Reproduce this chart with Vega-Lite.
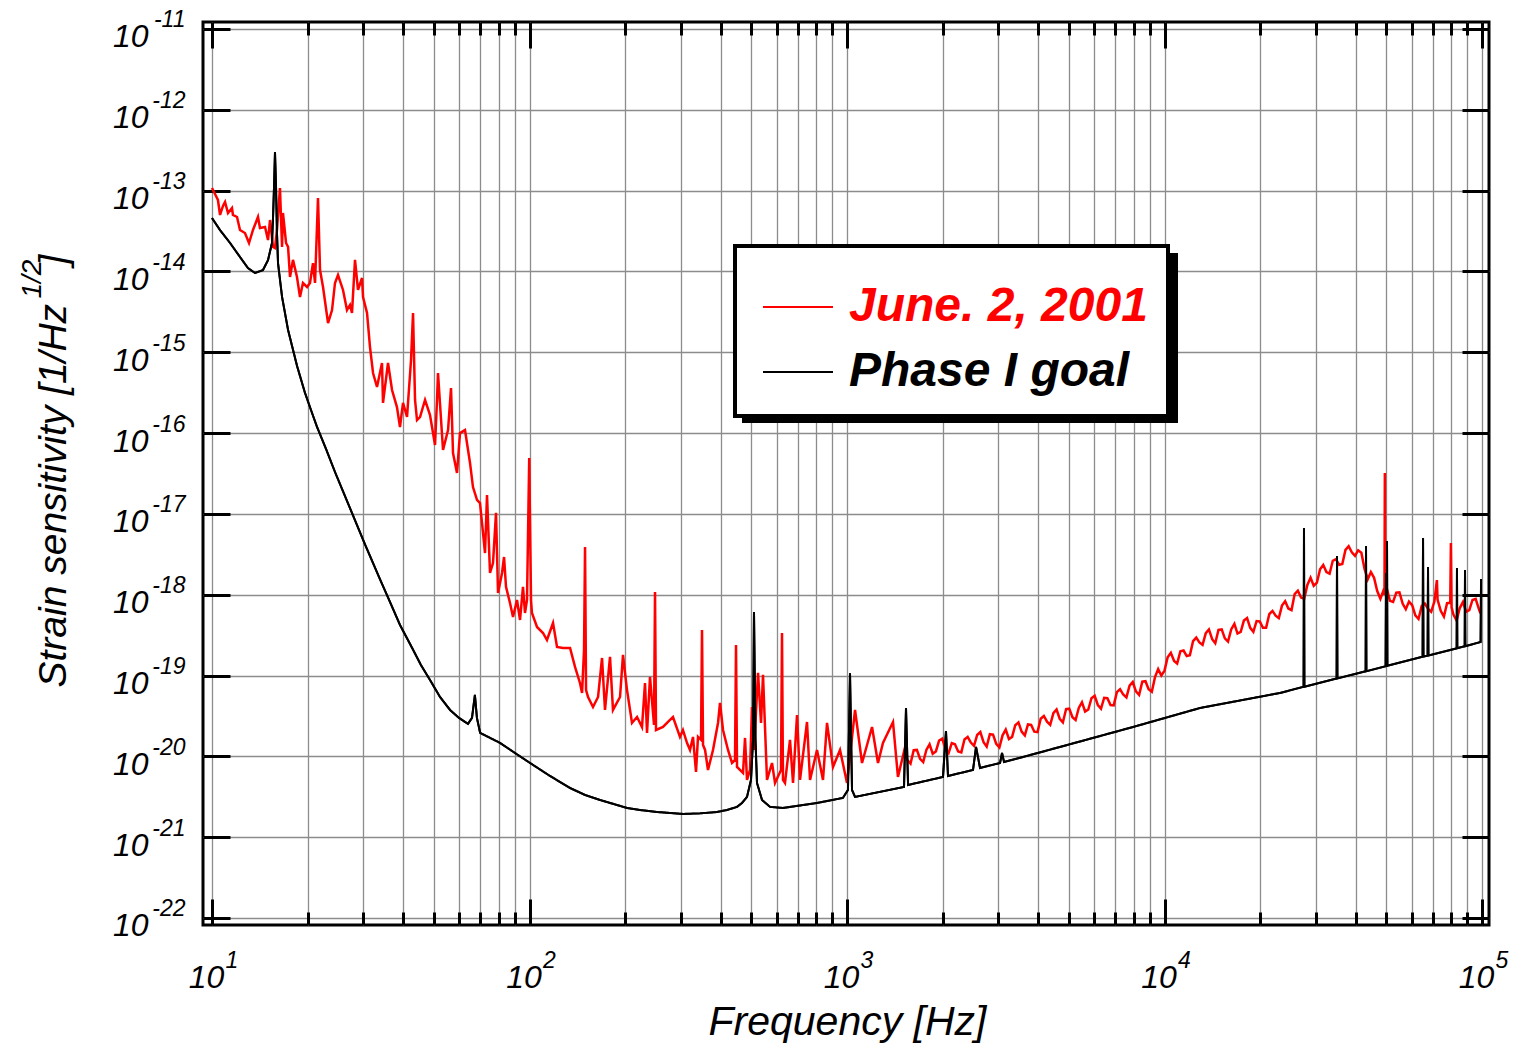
{
 "$schema": "https://vega.github.io/schema/vega-lite/v6.json",
 "width": 1286,
 "height": 903,
 "autosize": {"type": "none"},
 "padding": {"left": 203, "top": 22, "right": 24, "bottom": 118},
 "background": "white",
 "config": {
  "view": {"stroke": "black", "strokeWidth": 3},
  "font": "Liberation Sans",
  "axis": {"domain": false, "labelFont": "Liberation Sans", "labelFontStyle": "italic", "labelFontWeight": "normal", "labelColor": "black", "labelOverlap": false, "labelFlush": false, "titleFont": "Liberation Sans", "titleFontStyle": "italic", "titleFontWeight": "normal", "titleColor": "black", "tickColor": "black", "tickWidth": 3, "gridColor": "#8c8c8c", "gridWidth": 1.3},
  "legend": {"padding": 20, "rowPadding": 17, "symbolSize": 1225, "symbolStrokeWidth": 2, "labelFont": "Liberation Sans", "labelFontSize": 48, "labelFontStyle": "italic", "labelFontWeight": "bold", "labelOffset": 46, "labelLimit": 700, "titleFontSize": 1, "titlePadding": 16, "titleFont": "Liberation Sans"}
 },
 "datasets": {
  "measured": [
   {"f":10,"s":1.078e-13,"series":"June. 2, 2001"},{"f":10.22,"s":9.09e-14,"series":"June. 2, 2001"},{"f":10.44,"s":7.66e-14,"series":"June. 2, 2001"},{"f":10.6,"s":5.0e-14,"series":"June. 2, 2001"},{"f":10.83,"s":6.46e-14,"series":"June. 2, 2001"},{"f":10.99,"s":7.24e-14,"series":"June. 2, 2001"},{"f":11.23,"s":5.29e-14,"series":"June. 2, 2001"},{"f":11.56,"s":6.1e-14,"series":"June. 2, 2001"},{"f":11.64,"s":5.0e-14,"series":"June. 2, 2001"},{"f":11.99,"s":4.72e-14,"series":"June. 2, 2001"},{"f":12.25,"s":3.26e-14,"series":"June. 2, 2001"},{"f":12.7,"s":2.99e-14,"series":"June. 2, 2001"},{"f":13.08,"s":2.25e-14,"series":"June. 2, 2001"},{"f":13.46,"s":3.26e-14,"series":"June. 2, 2001"},{"f":13.96,"s":4.72e-14,"series":"June. 2, 2001"},{"f":14.16,"s":3.45e-14,"series":"June. 2, 2001"},{"f":14.69,"s":3.55e-14,"series":"June. 2, 2001"},{"f":15.01,"s":2.45e-14,"series":"June. 2, 2001"},{"f":15.23,"s":4.33e-14,"series":"June. 2, 2001"},{"f":15.57,"s":2.01e-14,"series":"June. 2, 2001"},{"f":15.79,"s":1.95e-14,"series":"June. 2, 2001"},{"f":16.02,"s":3.26e-14,"series":"June. 2, 2001"},{"f":16.37,"s":1.078e-13,"series":"June. 2, 2001"},{"f":16.62,"s":2.01e-14,"series":"June. 2, 2001"},{"f":16.73,"s":5.29e-14,"series":"June. 2, 2001"},{"f":17.11,"s":2.25e-14,"series":"June. 2, 2001"},{"f":17.36,"s":2.01e-14,"series":"June. 2, 2001"},{"f":17.61,"s":8.54e-15,"series":"June. 2, 2001"},{"f":17.99,"s":1.39e-14,"series":"June. 2, 2001"},{"f":18.52,"s":8.54e-15,"series":"June. 2, 2001"},{"f":18.93,"s":4.83e-15,"series":"June. 2, 2001"},{"f":19.34,"s":7.2e-15,"series":"June. 2, 2001"},{"f":19.92,"s":6.42e-15,"series":"June. 2, 2001"},{"f":20.35,"s":7.2e-15,"series":"June. 2, 2001"},{"f":20.8,"s":1.27e-14,"series":"June. 2, 2001"},{"f":21.11,"s":7.2e-15,"series":"June. 2, 2001"},{"f":21.57,"s":8.11e-14,"series":"June. 2, 2001"},{"f":21.89,"s":1.04e-14,"series":"June. 2, 2001"},{"f":22.37,"s":6.42e-15,"series":"June. 2, 2001"},{"f":23.2,"s":2.3e-15,"series":"June. 2, 2001"},{"f":23.88,"s":3.33e-15,"series":"June. 2, 2001"},{"f":24.4,"s":7.2e-15,"series":"June. 2, 2001"},{"f":24.94,"s":9.04e-15,"series":"June. 2, 2001"},{"f":25.86,"s":5.9e-15,"series":"June. 2, 2001"},{"f":26.62,"s":3.33e-15,"series":"June. 2, 2001"},{"f":27.2,"s":3.85e-15,"series":"June. 2, 2001"},{"f":27.6,"s":3.06e-15,"series":"June. 2, 2001"},{"f":28.21,"s":1.39e-14,"series":"June. 2, 2001"},{"f":28.83,"s":5.9e-15,"series":"June. 2, 2001"},{"f":29.68,"s":8.3e-15,"series":"June. 2, 2001"},{"f":29.9,"s":4.83e-15,"series":"June. 2, 2001"},{"f":30.78,"s":3.06e-15,"series":"June. 2, 2001"},{"f":31.45,"s":1.16e-15,"series":"June. 2, 2001"},{"f":32.15,"s":5.54e-16,"series":"June. 2, 2001"},{"f":33.09,"s":3.72e-16,"series":"June. 2, 2001"},{"f":34.31,"s":7.37e-16,"series":"June. 2, 2001"},{"f":34.56,"s":2.36e-16,"series":"June. 2, 2001"},{"f":35.84,"s":7.37e-16,"series":"June. 2, 2001"},{"f":36.9,"s":3.41e-16,"series":"June. 2, 2001"},{"f":38.24,"s":2.1e-16,"series":"June. 2, 2001"},{"f":39.09,"s":1.19e-16,"series":"June. 2, 2001"},{"f":39.96,"s":2.36e-16,"series":"June. 2, 2001"},{"f":41.14,"s":1.58e-16,"series":"June. 2, 2001"},{"f":42.35,"s":8.03e-16,"series":"June. 2, 2001"},{"f":42.97,"s":3.06e-15,"series":"June. 2, 2001"},{"f":43.6,"s":2.57e-16,"series":"June. 2, 2001"},{"f":44.23,"s":1.45e-16,"series":"June. 2, 2001"},{"f":45.2,"s":1.58e-16,"series":"June. 2, 2001"},{"f":46.88,"s":2.57e-16,"series":"June. 2, 2001"},{"f":48.6,"s":1.67e-16,"series":"June. 2, 2001"},{"f":50.4,"s":7.13e-17,"series":"June. 2, 2001"},{"f":51.13,"s":2.57e-16,"series":"June. 2, 2001"},{"f":51.5,"s":5.54e-16,"series":"June. 2, 2001"},{"f":53.41,"s":6.18e-17,"series":"June. 2, 2001"},{"f":55.39,"s":1.09e-16,"series":"June. 2, 2001"},{"f":56.6,"s":3.61e-16,"series":"June. 2, 2001"},{"f":57.42,"s":5.67e-17,"series":"June. 2, 2001"},{"f":59.11,"s":3.21e-17,"series":"June. 2, 2001"},{"f":60.4,"s":1.0e-16,"series":"June. 2, 2001"},{"f":62.64,"s":1.09e-16,"series":"June. 2, 2001"},{"f":64.96,"s":4.27e-17,"series":"June. 2, 2001"},{"f":66.37,"s":2.15e-17,"series":"June. 2, 2001"},{"f":68.33,"s":1.49e-17,"series":"June. 2, 2001"},{"f":69.84,"s":1.36e-17,"series":"June. 2, 2001"},{"f":70.86,"s":7.72e-18,"series":"June. 2, 2001"},{"f":72.42,"s":3.28e-18,"series":"June. 2, 2001"},{"f":73.48,"s":1.71e-17,"series":"June. 2, 2001"},{"f":75.1,"s":1.86e-18,"series":"June. 2, 2001"},{"f":76.74,"s":2.47e-18,"series":"June. 2, 2001"},{"f":78.44,"s":1.03e-17,"series":"June. 2, 2001"},{"f":79.59,"s":1.05e-18,"series":"June. 2, 2001"},{"f":81.94,"s":1.86e-18,"series":"June. 2, 2001"},{"f":83.14,"s":2.93e-18,"series":"June. 2, 2001"},{"f":84.33,"s":1.25e-18,"series":"June. 2, 2001"},{"f":86.82,"s":7.91e-19,"series":"June. 2, 2001"},{"f":88.72,"s":5.31e-19,"series":"June. 2, 2001"},{"f":91.33,"s":8.61e-19,"series":"June. 2, 2001"},{"f":93.35,"s":4.87e-19,"series":"June. 2, 2001"},{"f":95.39,"s":1.25e-18,"series":"June. 2, 2001"},{"f":96.78,"s":5.94e-19,"series":"June. 2, 2001"},{"f":98.2,"s":8.61e-19,"series":"June. 2, 2001"},{"f":99.8,"s":4.92e-17,"series":"June. 2, 2001"},{"f":101.1,"s":8.61e-19,"series":"June. 2, 2001"},{"f":101.8,"s":5.94e-19,"series":"June. 2, 2001"},{"f":105.6,"s":3.99e-19,"series":"June. 2, 2001"},{"f":110.3,"s":3.36e-19,"series":"June. 2, 2001"},{"f":113.5,"s":2.75e-19,"series":"June. 2, 2001"},{"f":118.6,"s":4.47e-19,"series":"June. 2, 2001"},{"f":122.1,"s":2.26e-19,"series":"June. 2, 2001"},{"f":127.5,"s":2.19e-19,"series":"June. 2, 2001"},{"f":134.2,"s":2.19e-19,"series":"June. 2, 2001"},{"f":139.1,"s":1.28e-19,"series":"June. 2, 2001"},{"f":144.2,"s":8.09e-20,"series":"June. 2, 2001"},{"f":146.4,"s":6.08e-20,"series":"June. 2, 2001"},{"f":148.5,"s":2.07e-19,"series":"June. 2, 2001"},{"f":149.6,"s":3.9e-18,"series":"June. 2, 2001"},{"f":150.7,"s":6.62e-20,"series":"June. 2, 2001"},{"f":152.9,"s":5.43e-20,"series":"June. 2, 2001"},{"f":158.5,"s":4.08e-20,"series":"June. 2, 2001"},{"f":164.4,"s":5.43e-20,"series":"June. 2, 2001"},{"f":169.2,"s":1.65e-19,"series":"June. 2, 2001"},{"f":172.9,"s":3.75e-20,"series":"June. 2, 2001"},{"f":179.3,"s":1.7e-19,"series":"June. 2, 2001"},{"f":183.2,"s":3.75e-20,"series":"June. 2, 2001"},{"f":192.8,"s":5.43e-20,"series":"June. 2, 2001"},{"f":197.0,"s":1.8e-19,"series":"June. 2, 2001"},{"f":202.8,"s":6.62e-20,"series":"June. 2, 2001"},{"f":210.3,"s":2.59e-20,"series":"June. 2, 2001"},{"f":218.1,"s":3.07e-20,"series":"June. 2, 2001"},{"f":226.1,"s":2.31e-20,"series":"June. 2, 2001"},{"f":231.1,"s":8.09e-20,"series":"June. 2, 2001"},{"f":234.5,"s":1.95e-20,"series":"June. 2, 2001"},{"f":239.6,"s":9.6e-20,"series":"June. 2, 2001"},{"f":246.7,"s":2.45e-20,"series":"June. 2, 2001"},{"f":248.5,"s":1.08e-18,"series":"June. 2, 2001"},{"f":250.3,"s":2.12e-20,"series":"June. 2, 2001"},{"f":263.3,"s":2.31e-20,"series":"June. 2, 2001"},{"f":277.0,"s":2.82e-20,"series":"June. 2, 2001"},{"f":283.1,"s":3.07e-20,"series":"June. 2, 2001"},{"f":297.8,"s":1.74e-20,"series":"June. 2, 2001"},{"f":304.3,"s":2.12e-20,"series":"June. 2, 2001"},{"f":313.3,"s":1.47e-20,"series":"June. 2, 2001"},{"f":320.2,"s":1.2e-20,"series":"June. 2, 2001"},{"f":327.3,"s":1.74e-20,"series":"June. 2, 2001"},{"f":334.5,"s":6.41e-21,"series":"June. 2, 2001"},{"f":339.4,"s":1.74e-20,"series":"June. 2, 2001"},{"f":346.9,"s":1.6e-20,"series":"June. 2, 2001"},{"f":349.4,"s":3.66e-19,"series":"June. 2, 2001"},{"f":352.0,"s":1.38e-20,"series":"June. 2, 2001"},{"f":357.2,"s":1.2e-20,"series":"June. 2, 2001"},{"f":364.9,"s":6.79e-21,"series":"June. 2, 2001"},{"f":378.4,"s":1.2e-20,"series":"June. 2, 2001"},{"f":392.4,"s":2.59e-20,"series":"June. 2, 2001"},{"f":398.1,"s":4.58e-20,"series":"June. 2, 2001"},{"f":406.9,"s":2.12e-20,"series":"June. 2, 2001"},{"f":421.9,"s":1.2e-20,"series":"June. 2, 2001"},{"f":434.3,"s":8.28e-21,"series":"June. 2, 2001"},{"f":443.9,"s":9.02e-21,"series":"June. 2, 2001"},{"f":447.1,"s":2.39e-19,"series":"June. 2, 2001"},{"f":450.4,"s":7.39e-21,"series":"June. 2, 2001"},{"f":470.4,"s":6.23e-21,"series":"June. 2, 2001"},{"f":477.3,"s":1.69e-20,"series":"June. 2, 2001"},{"f":484.2,"s":5.11e-21,"series":"June. 2, 2001"},{"f":494.9,"s":6.79e-21,"series":"June. 2, 2001"},{"f":502.2,"s":4.08e-20,"series":"June. 2, 2001"},{"f":509.5,"s":1.2e-20,"series":"June. 2, 2001"},{"f":524.5,"s":1.08e-19,"series":"June. 2, 2001"},{"f":536.0,"s":2.59e-20,"series":"June. 2, 2001"},{"f":543.8,"s":1.02e-19,"series":"June. 2, 2001"},{"f":559.8,"s":5.11e-21,"series":"June. 2, 2001"},{"f":580.5,"s":8.28e-21,"series":"June. 2, 2001"},{"f":593.3,"s":4.69e-21,"series":"June. 2, 2001"},{"f":619.6,"s":6.79e-21,"series":"June. 2, 2001"},{"f":624.1,"s":3.36e-19,"series":"June. 2, 2001"},{"f":628.6,"s":5.11e-21,"series":"June. 2, 2001"},{"f":637.8,"s":4.69e-21,"series":"June. 2, 2001"},{"f":661.4,"s":1.6e-20,"series":"June. 2, 2001"},{"f":676.0,"s":4.69e-21,"series":"June. 2, 2001"},{"f":695.9,"s":3.25e-20,"series":"June. 2, 2001"},{"f":711.2,"s":5.11e-21,"series":"June. 2, 2001"},{"f":748.2,"s":2.66e-20,"series":"June. 2, 2001"},{"f":764.7,"s":5.11e-21,"series":"June. 2, 2001"},{"f":804.5,"s":1.2e-20,"series":"June. 2, 2001"},{"f":840.2,"s":5.11e-21,"series":"June. 2, 2001"},{"f":865.0,"s":2.59e-20,"series":"June. 2, 2001"},{"f":903.5,"s":7.39e-21,"series":"June. 2, 2001"},{"f":950.6,"s":1.2e-20,"series":"June. 2, 2001"},{"f":1000,"s":4.69e-21,"series":"June. 2, 2001"},{"f":1060,"s":3.75e-20,"series":"June. 2, 2001"},{"f":1115,"s":8.28e-21,"series":"June. 2, 2001"},{"f":1199,"s":2.31e-20,"series":"June. 2, 2001"},{"f":1252,"s":8.28e-21,"series":"June. 2, 2001"},{"f":1298,"s":1.47e-20,"series":"June. 2, 2001"},{"f":1396,"s":2.66e-20,"series":"June. 2, 2001"},{"f":1447,"s":5.56e-21,"series":"June. 2, 2001"},
   {"f":1514,"s":1.175e-20,"series":"June. 2, 2001"},{"f":1549,"s":9.02e-21,"series":"June. 2, 2001"},{"f":1585,"s":8.13e-21,"series":"June. 2, 2001"},{"f":1622,"s":1.19e-20,"series":"June. 2, 2001"},{"f":1660,"s":1.2e-20,"series":"June. 2, 2001"},{"f":1698,"s":9.33e-21,"series":"June. 2, 2001"},{"f":1738,"s":8.51e-21,"series":"June. 2, 2001"},{"f":1778,"s":1.2e-20,"series":"June. 2, 2001"},{"f":1820,"s":1.41e-20,"series":"June. 2, 2001"},{"f":1862,"s":1.08e-20,"series":"June. 2, 2001"},{"f":1905,"s":1.15e-20,"series":"June. 2, 2001"},{"f":1950,"s":1.57e-20,"series":"June. 2, 2001"},{"f":1995,"s":1.66e-20,"series":"June. 2, 2001"},{"f":2042,"s":1.24e-20,"series":"June. 2, 2001"},{"f":2089,"s":1.1e-20,"series":"June. 2, 2001"},{"f":2138,"s":1.46e-20,"series":"June. 2, 2001"},{"f":2188,"s":1.41e-20,"series":"June. 2, 2001"},{"f":2239,"s":1.15e-20,"series":"June. 2, 2001"},{"f":2291,"s":1.12e-20,"series":"June. 2, 2001"},{"f":2344,"s":1.62e-20,"series":"June. 2, 2001"},{"f":2399,"s":1.74e-20,"series":"June. 2, 2001"},{"f":2455,"s":1.48e-20,"series":"June. 2, 2001"},{"f":2512,"s":1.35e-20,"series":"June. 2, 2001"},{"f":2570,"s":1.84e-20,"series":"June. 2, 2001"},{"f":2630,"s":2.0e-20,"series":"June. 2, 2001"},{"f":2692,"s":1.5e-20,"series":"June. 2, 2001"},{"f":2754,"s":1.32e-20,"series":"June. 2, 2001"},{"f":2818,"s":1.88e-20,"series":"June. 2, 2001"},{"f":2884,"s":1.86e-20,"series":"June. 2, 2001"},{"f":2951,"s":1.43e-20,"series":"June. 2, 2001"},{"f":3020,"s":1.29e-20,"series":"June. 2, 2001"},{"f":3090,"s":1.82e-20,"series":"June. 2, 2001"},{"f":3162,"s":2.14e-20,"series":"June. 2, 2001"},{"f":3236,"s":1.64e-20,"series":"June. 2, 2001"},{"f":3311,"s":1.74e-20,"series":"June. 2, 2001"},{"f":3388,"s":2.43e-20,"series":"June. 2, 2001"},{"f":3467,"s":2.63e-20,"series":"June. 2, 2001"},{"f":3548,"s":2.02e-20,"series":"June. 2, 2001"},{"f":3631,"s":1.82e-20,"series":"June. 2, 2001"},{"f":3715,"s":2.48e-20,"series":"June. 2, 2001"},{"f":3802,"s":2.45e-20,"series":"June. 2, 2001"},{"f":3890,"s":2.02e-20,"series":"June. 2, 2001"},{"f":3981,"s":2.0e-20,"series":"June. 2, 2001"},{"f":4074,"s":2.92e-20,"series":"June. 2, 2001"},{"f":4169,"s":3.16e-20,"series":"June. 2, 2001"},{"f":4266,"s":2.69e-20,"series":"June. 2, 2001"},{"f":4365,"s":2.45e-20,"series":"June. 2, 2001"},{"f":4467,"s":3.43e-20,"series":"June. 2, 2001"},{"f":4571,"s":3.8e-20,"series":"June. 2, 2001"},{"f":4677,"s":2.92e-20,"series":"June. 2, 2001"},{"f":4786,"s":2.63e-20,"series":"June. 2, 2001"},{"f":4898,"s":3.85e-20,"series":"June. 2, 2001"},{"f":5012,"s":3.89e-20,"series":"June. 2, 2001"},{"f":5129,"s":3.05e-20,"series":"June. 2, 2001"},{"f":5248,"s":2.82e-20,"series":"June. 2, 2001"},{"f":5370,"s":3.98e-20,"series":"June. 2, 2001"},{"f":5495,"s":4.68e-20,"series":"June. 2, 2001"},{"f":5623,"s":3.59e-20,"series":"June. 2, 2001"},{"f":5754,"s":3.8e-20,"series":"June. 2, 2001"},{"f":5888,"s":5.25e-20,"series":"June. 2, 2001"},{"f":6026,"s":5.62e-20,"series":"June. 2, 2001"},{"f":6166,"s":4.32e-20,"series":"June. 2, 2001"},{"f":6310,"s":3.89e-20,"series":"June. 2, 2001"},{"f":6457,"s":5.31e-20,"series":"June. 2, 2001"},{"f":6607,"s":5.25e-20,"series":"June. 2, 2001"},{"f":6761,"s":4.32e-20,"series":"June. 2, 2001"},{"f":6918,"s":4.27e-20,"series":"June. 2, 2001"},{"f":7079,"s":6.24e-20,"series":"June. 2, 2001"},{"f":7244,"s":6.76e-20,"series":"June. 2, 2001"},{"f":7413,"s":5.82e-20,"series":"June. 2, 2001"},{"f":7586,"s":5.37e-20,"series":"June. 2, 2001"},{"f":7762,"s":7.5e-20,"series":"June. 2, 2001"},{"f":7943,"s":8.32e-20,"series":"June. 2, 2001"},{"f":8128,"s":6.38e-20,"series":"June. 2, 2001"},{"f":8318,"s":5.75e-20,"series":"June. 2, 2001"},{"f":8511,"s":8.41e-20,"series":"June. 2, 2001"},{"f":8710,"s":8.51e-20,"series":"June. 2, 2001"},{"f":8913,"s":6.76e-20,"series":"June. 2, 2001"},{"f":9120,"s":6.31e-20,"series":"June. 2, 2001"},{"f":9333,"s":9.55e-20,"series":"June. 2, 2001"},{"f":9550,"s":1.2e-19,"series":"June. 2, 2001"},{"f":9772,"s":1.0e-19,"series":"June. 2, 2001"},{"f":10000,"s":1.15e-19,"series":"June. 2, 2001"},{"f":10230,"s":1.68e-19,"series":"June. 2, 2001"},{"f":10470,"s":1.91e-19,"series":"June. 2, 2001"},{"f":10720,"s":1.51e-19,"series":"June. 2, 2001"},{"f":10960,"s":1.41e-19,"series":"June. 2, 2001"},{"f":11220,"s":2.0e-19,"series":"June. 2, 2001"},{"f":11480,"s":2.04e-19,"series":"June. 2, 2001"},{"f":11750,"s":1.74e-19,"series":"June. 2, 2001"},{"f":12020,"s":1.78e-19,"series":"June. 2, 2001"},{"f":12300,"s":2.66e-19,"series":"June. 2, 2001"},{"f":12590,"s":2.95e-19,"series":"June. 2, 2001"},{"f":12880,"s":2.57e-19,"series":"June. 2, 2001"},{"f":13180,"s":2.4e-19,"series":"June. 2, 2001"},{"f":13490,"s":3.35e-19,"series":"June. 2, 2001"},{"f":13800,"s":3.72e-19,"series":"June. 2, 2001"},{"f":14130,"s":2.82e-19,"series":"June. 2, 2001"},{"f":14450,"s":2.51e-19,"series":"June. 2, 2001"},{"f":14790,"s":3.67e-19,"series":"June. 2, 2001"},{"f":15140,"s":3.72e-19,"series":"June. 2, 2001"},{"f":15490,"s":2.88e-19,"series":"June. 2, 2001"},{"f":15850,"s":2.63e-19,"series":"June. 2, 2001"},{"f":16220,"s":3.72e-19,"series":"June. 2, 2001"},{"f":16600,"s":4.37e-19,"series":"June. 2, 2001"},{"f":16980,"s":3.31e-19,"series":"June. 2, 2001"},{"f":17380,"s":3.47e-19,"series":"June. 2, 2001"},{"f":17780,"s":4.79e-19,"series":"June. 2, 2001"},{"f":18200,"s":5.13e-19,"series":"June. 2, 2001"},{"f":18620,"s":3.89e-19,"series":"June. 2, 2001"},{"f":19050,"s":3.47e-19,"series":"June. 2, 2001"},{"f":19500,"s":4.73e-19,"series":"June. 2, 2001"},{"f":19950,"s":4.68e-19,"series":"June. 2, 2001"},{"f":20420,"s":3.89e-19,"series":"June. 2, 2001"},{"f":20890,"s":3.89e-19,"series":"June. 2, 2001"},{"f":21380,"s":5.75e-19,"series":"June. 2, 2001"},{"f":21880,"s":6.31e-19,"series":"June. 2, 2001"},{"f":22390,"s":5.5e-19,"series":"June. 2, 2001"},{"f":22910,"s":5.13e-19,"series":"June. 2, 2001"},{"f":23440,"s":7.33e-19,"series":"June. 2, 2001"},{"f":23990,"s":8.32e-19,"series":"June. 2, 2001"},{"f":24550,"s":6.76e-19,"series":"June. 2, 2001"},{"f":25120,"s":6.46e-19,"series":"June. 2, 2001"},{"f":25700,"s":1.02e-18,"series":"June. 2, 2001"},{"f":26300,"s":1.12e-18,"series":"June. 2, 2001"},{"f":26920,"s":9.23e-19,"series":"June. 2, 2001"},{"f":27540,"s":8.91e-19,"series":"June. 2, 2001"},{"f":28180,"s":1.32e-18,"series":"June. 2, 2001"},{"f":28840,"s":1.62e-18,"series":"June. 2, 2001"},{"f":29510,"s":1.29e-18,"series":"June. 2, 2001"},{"f":30200,"s":1.41e-18,"series":"June. 2, 2001"},{"f":30900,"s":2.07e-18,"series":"June. 2, 2001"},{"f":31620,"s":2.34e-18,"series":"June. 2, 2001"},{"f":32360,"s":1.91e-18,"series":"June. 2, 2001"},{"f":33110,"s":1.82e-18,"series":"June. 2, 2001"},{"f":33880,"s":2.63e-18,"series":"June. 2, 2001"},{"f":34670,"s":2.75e-18,"series":"June. 2, 2001"},{"f":35480,"s":2.34e-18,"series":"June. 2, 2001"},{"f":36310,"s":2.4e-18,"series":"June. 2, 2001"},{"f":37150,"s":3.59e-18,"series":"June. 2, 2001"},{"f":38020,"s":3.98e-18,"series":"June. 2, 2001"},{"f":38900,"s":3.35e-18,"series":"June. 2, 2001"},{"f":39810,"s":3.02e-18,"series":"June. 2, 2001"},{"f":40740,"s":3.55e-18,"series":"June. 2, 2001"},{"f":41690,"s":3.31e-18,"series":"June. 2, 2001"},{"f":42660,"s":2.09e-18,"series":"June. 2, 2001"},{"f":43650,"s":1.55e-18,"series":"June. 2, 2001"},{"f":44670,"s":1.91e-18,"series":"June. 2, 2001"},{"f":45710,"s":1.62e-18,"series":"June. 2, 2001"},{"f":46770,"s":1.11e-18,"series":"June. 2, 2001"},{"f":47860,"s":8.91e-19,"series":"June. 2, 2001"},{"f":48980,"s":1.14e-18,"series":"June. 2, 2001"},{"f":49300,"s":1.0e-18,"series":"June. 2, 2001"},{"f":49430,"s":3.21e-17,"series":"June. 2, 2001"},{"f":49560,"s":1.0e-18,"series":"June. 2, 2001"},{"f":50120,"s":1.2e-18,"series":"June. 2, 2001"},{"f":51290,"s":8.41e-19,"series":"June. 2, 2001"},{"f":52480,"s":8.13e-19,"series":"June. 2, 2001"},{"f":53700,"s":1.06e-18,"series":"June. 2, 2001"},{"f":54950,"s":1.07e-18,"series":"June. 2, 2001"},{"f":56230,"s":7.76e-19,"series":"June. 2, 2001"},{"f":57540,"s":6.61e-19,"series":"June. 2, 2001"},{"f":58880,"s":8.22e-19,"series":"June. 2, 2001"},{"f":60260,"s":7.41e-19,"series":"June. 2, 2001"},{"f":61660,"s":5.56e-19,"series":"June. 2, 2001"},{"f":63100,"s":5.01e-19,"series":"June. 2, 2001"},{"f":64570,"s":7.24e-19,"series":"June. 2, 2001"},{"f":66070,"s":7.76e-19,"series":"June. 2, 2001"},{"f":67610,"s":6.68e-19,"series":"June. 2, 2001"},{"f":69180,"s":6.17e-19,"series":"June. 2, 2001"},{"f":70790,"s":8.22e-19,"series":"June. 2, 2001"},{"f":72100,"s":1.52e-18,"series":"June. 2, 2001"},{"f":72440,"s":8.71e-19,"series":"June. 2, 2001"},{"f":74130,"s":6.31e-19,"series":"June. 2, 2001"},{"f":75860,"s":5.37e-19,"series":"June. 2, 2001"},{"f":77620,"s":7.85e-19,"series":"June. 2, 2001"},{"f":79430,"s":7.94e-19,"series":"June. 2, 2001"},{"f":79800,"s":4.37e-18,"series":"June. 2, 2001"},{"f":80200,"s":7.0e-19,"series":"June. 2, 2001"},{"f":81280,"s":5.69e-19,"series":"June. 2, 2001"},{"f":83180,"s":4.79e-19,"series":"June. 2, 2001"},{"f":85110,"s":6.84e-19,"series":"June. 2, 2001"},{"f":87100,"s":8.13e-19,"series":"June. 2, 2001"},{"f":89130,"s":6.17e-19,"series":"June. 2, 2001"},{"f":91200,"s":6.46e-19,"series":"June. 2, 2001"},{"f":93330,"s":8.61e-19,"series":"June. 2, 2001"},{"f":95500,"s":8.91e-19,"series":"June. 2, 2001"},{"f":97720,"s":6.68e-19,"series":"June. 2, 2001"},{"f":98860,"s":5.89e-19,"series":"June. 2, 2001"}
  ],
  "goal": [
   {"f":10,"s":4.58e-14,"series":"Phase I goal"},{"f":10.6,"s":3.25e-14,"series":"Phase I goal"},{"f":11.4,"s":2.25e-14,"series":"Phase I goal"},{"f":12.25,"s":1.51e-14,"series":"Phase I goal"},{"f":12.98,"s":1.1e-14,"series":"Phase I goal"},{"f":13.66,"s":9.58e-15,"series":"Phase I goal"},{"f":14.47,"s":1.04e-14,"series":"Phase I goal"},{"f":15.01,"s":1.38e-14,"series":"Phase I goal"},{"f":15.45,"s":2.25e-14,"series":"Phase I goal"},{"f":15.57,"s":4.71e-14,"series":"Phase I goal"},{"f":15.68,"s":1.108e-13,"series":"Phase I goal"},{"f":15.79,"s":3.0e-13,"series":"Phase I goal"},{"f":15.91,"s":1.108e-13,"series":"Phase I goal"},{"f":16.02,"s":2.99e-14,"series":"Phase I goal"},{"f":16.14,"s":1.27e-14,"series":"Phase I goal"},{"f":16.62,"s":4.84e-15,"series":"Phase I goal"},{"f":17.36,"s":1.89e-15,"series":"Phase I goal"},{"f":18.53,"s":6.77e-16,"series":"Phase I goal"},{"f":19.63,"s":3.14e-16,"series":"Phase I goal"},{"f":20.5,"s":1.93e-16,"series":"Phase I goal"},{"f":21.42,"s":1.19e-16,"series":"Phase I goal"},{"f":22.86,"s":6.36e-17,"series":"Phase I goal"},{"f":24.4,"s":3.3e-17,"series":"Phase I goal"},{"f":27.2,"s":1.18e-17,"series":"Phase I goal"},{"f":30.3,"s":4.24e-18,"series":"Phase I goal"},{"f":33.8,"s":1.56e-18,"series":"Phase I goal"},{"f":36.37,"s":8.12e-19,"series":"Phase I goal"},{"f":39.1,"s":4.22e-19,"series":"Phase I goal"},{"f":42.7,"s":2.19e-19,"series":"Phase I goal"},{"f":45.5,"s":1.35e-19,"series":"Phase I goal"},{"f":48.6,"s":8.82e-20,"series":"Phase I goal"},{"f":52.25,"s":5.43e-20,"series":"Phase I goal"},{"f":56.2,"s":3.75e-20,"series":"Phase I goal"},{"f":59.98,"s":2.99e-20,"series":"Phase I goal"},{"f":64.0,"s":2.52e-20,"series":"Phase I goal"},{"f":65.9,"s":2.99e-20,"series":"Phase I goal"},{"f":67.3,"s":5.75e-20,"series":"Phase I goal"},{"f":68.3,"s":2.99e-20,"series":"Phase I goal"},{"f":69.9,"s":1.95e-20,"series":"Phase I goal"},{"f":80.7,"s":1.47e-20,"series":"Phase I goal"},{"f":90.0,"s":1.1e-20,"series":"Phase I goal"},{"f":100.4,"s":8.28e-21,"series":"Phase I goal"},{"f":116.0,"s":5.72e-21,"series":"Phase I goal"},{"f":134.2,"s":4.06e-21,"series":"Phase I goal"},{"f":149.6,"s":3.33e-21,"series":"Phase I goal"},{"f":166.7,"s":2.89e-21,"series":"Phase I goal"},{"f":202.8,"s":2.3e-21,"series":"Phase I goal"},{"f":222.8,"s":2.17e-21,"series":"Phase I goal"},{"f":252,"s":2.05e-21,"series":"Phase I goal"},{"f":304.3,"s":1.94e-21,"series":"Phase I goal"},{"f":344.4,"s":1.97e-21,"series":"Phase I goal"},{"f":389.5,"s":2.05e-21,"series":"Phase I goal"},{"f":418.8,"s":2.17e-21,"series":"Phase I goal"},{"f":450.4,"s":2.37e-21,"series":"Phase I goal"},{"f":467,"s":2.65e-21,"series":"Phase I goal"},{"f":484.2,"s":3.15e-21,"series":"Phase I goal"},{"f":498.4,"s":5.11e-21,"series":"Phase I goal"},{"f":505.8,"s":1.6e-20,"series":"Phase I goal"},{"f":509.4,"s":6.11e-19,"series":"Phase I goal"},{"f":514.9,"s":1.6e-20,"series":"Phase I goal"},{"f":520.6,"s":4.69e-21,"series":"Phase I goal"},{"f":539.9,"s":2.89e-21,"series":"Phase I goal"},{"f":572.2,"s":2.37e-21,"series":"Phase I goal"},{"f":628.6,"s":2.3e-21,"series":"Phase I goal"},{"f":804.5,"s":2.65e-21,"series":"Phase I goal"},{"f":970.6,"s":3.06e-21,"series":"Phase I goal"},{"f":1007,"s":3.84e-21,"series":"Phase I goal"},{"f":1022,"s":1.07e-19,"series":"Phase I goal"},{"f":1037,"s":3.84e-21,"series":"Phase I goal"},{"f":1060,"s":3.15e-21,"series":"Phase I goal"},{"f":1512,"s":4.18e-21,"series":"Phase I goal"},{"f":1534,"s":3.97e-20,"series":"Phase I goal"},{"f":1557,"s":4.43e-21,"series":"Phase I goal"},{"f":2006,"s":5.56e-21,"series":"Phase I goal"},{"f":2050,"s":2.06e-20,"series":"Phase I goal"},{"f":2080,"s":5.72e-21,"series":"Phase I goal"},{"f":2494,"s":6.79e-21,"series":"Phase I goal"},{"f":2549,"s":1.31e-20,"series":"Phase I goal"},{"f":2624,"s":7.19e-21,"series":"Phase I goal"},{"f":3034,"s":8.28e-21,"series":"Phase I goal"},{"f":3078,"s":1.1e-20,"series":"Phase I goal"},{"f":3123,"s":8.52e-21,"series":"Phase I goal"},{"f":3584,"s":9.83e-21,"series":"Phase I goal"},{"f":4932,"s":1.38e-20,"series":"Phase I goal"},{"f":7961,"s":2.31e-20,"series":"Phase I goal"},{"f":12940,"s":3.97e-20,"series":"Phase I goal"},{"f":23110,"s":6.09e-20,"series":"Phase I goal"},{"f":27420,"s":7.25e-20,"series":"Phase I goal"},{"f":27500,"s":6.69e-18,"series":"Phase I goal"},{"f":27580,"s":7.27e-20,"series":"Phase I goal"},{"f":34840,"s":9.2e-20,"series":"Phase I goal"},{"f":34940,"s":3.01e-18,"series":"Phase I goal"},{"f":35040,"s":9.22e-20,"series":"Phase I goal"},{"f":43000,"s":1.13e-19,"series":"Phase I goal"},{"f":43120,"s":4.01e-18,"series":"Phase I goal"},{"f":43240,"s":1.13e-19,"series":"Phase I goal"},{"f":49700,"s":1.3e-19,"series":"Phase I goal"},{"f":49850,"s":1.86e-18,"series":"Phase I goal"},{"f":50000,"s":1.31e-19,"series":"Phase I goal"},{"f":50100,"s":1.31e-19,"series":"Phase I goal"},{"f":50210,"s":4.62e-18,"series":"Phase I goal"},{"f":50350,"s":1.32e-19,"series":"Phase I goal"},{"f":65000,"s":1.71e-19,"series":"Phase I goal"},{"f":65200,"s":5.03e-18,"series":"Phase I goal"},{"f":65400,"s":1.72e-19,"series":"Phase I goal"},{"f":67400,"s":1.76e-19,"series":"Phase I goal"},{"f":67600,"s":2.2e-18,"series":"Phase I goal"},{"f":67800,"s":1.77e-19,"series":"Phase I goal"},{"f":83200,"s":2.17e-19,"series":"Phase I goal"},{"f":83400,"s":2.14e-18,"series":"Phase I goal"},{"f":83600,"s":2.18e-19,"series":"Phase I goal"},{"f":88200,"s":2.3e-19,"series":"Phase I goal"},{"f":88400,"s":2.02e-18,"series":"Phase I goal"},{"f":88600,"s":2.31e-19,"series":"Phase I goal"},{"f":99000,"s":2.6e-19,"series":"Phase I goal"},{"f":99300,"s":1.56e-18,"series":"Phase I goal"}
  ]
 },
 "layer": [
  {
   "data": {"name": "measured"},
   "mark": {"type": "line", "strokeWidth": 2.5},
   "encoding": {
    "x": {"field": "f", "type": "quantitative", "scale": {"type": "log", "domain": [9.368, 105200], "nice": false},
     "axis": {"orient": "bottom", "values": [10,20,30,40,50,60,70,80,90,100,200,300,400,500,600,700,800,900,1000,2000,3000,4000,5000,6000,7000,8000,9000,10000,20000,30000,40000,50000,60000,70000,80000,90000,100000],
      "grid": true, "ticks": true, "tickSize": -13, "labels": true,
      "labelExpr": "indexof([10,100,1000,10000,100000], datum.value) >= 0 ? '10' : ''",
      "labelFontSize": 32, "labelAlign": "center", "labelBaseline": "alphabetic", "labelPadding": 75, "labelOffset": -6,
      "title": "Frequency [Hz]", "titleFontSize": 41, "titleX": 644, "titleY": 109, "titleAlign": "center", "titleBaseline": "alphabetic"}},
    "y": {"field": "s", "type": "quantitative", "scale": {"type": "log", "domain": [8.19e-23, 1.2207e-11], "nice": false},
     "axis": {"orient": "left", "values": [1e-22,1e-21,1e-20,1e-19,1e-18,1e-17,1e-16,1e-15,1e-14,1e-13,1e-12,1e-11],
      "grid": true, "ticks": true, "tickSize": -27, "labels": true, "labelExpr": "'10'",
      "labelFontSize": 32, "labelAlign": "right", "labelBaseline": "alphabetic", "labelPadding": 82, "labelOffset": 18,
      "title": "Strain sensitivity [1/Hz", "titleFontSize": 39, "titleAngle": 270, "titleAlign": "left", "titleBaseline": "alphabetic", "titleX": -138, "titleY": 665}},
    "color": {"field": "series", "type": "nominal", "scale": {"range": ["#ff0000", "#000000"]},
     "legend": {"title": "\u00a0", "orient": "none", "legendX": 532, "legendY": 224, "fillColor": "white", "strokeColor": "black", "zindex": 2,
      "symbolType": "M-0.914,0H3.086",
      "encode": {"legend": {"update": {"strokeWidth": {"value": 4}}}, "labels": {"update": {"fill": {"signal": "datum.value === 'June. 2, 2001' ? '#ff0000' : '#000000'"}}}}}}
   }
  },
  {
   "data": {"name": "goal"},
   "mark": {"type": "line", "strokeWidth": 2},
   "encoding": {
    "x": {"field": "f", "type": "quantitative", "scale": {"type": "log", "domain": [9.368, 105200], "nice": false},
     "axis": {"orient": "bottom", "values": [10,100,1000,10000,100000], "grid": false, "ticks": true, "tickSize": -26, "labels": true,
      "labelExpr": "'' + round(log(datum.value) / LN10)", "labelFontSize": 23, "labelAlign": "left", "labelBaseline": "alphabetic", "labelPadding": 68, "labelOffset": 13, "title": null}},
    "y": {"field": "s", "type": "quantitative", "scale": {"type": "log", "domain": [8.19e-23, 1.2207e-11], "nice": false},
     "axis": {"orient": "left", "values": [1e-22,1e-21,1e-20,1e-19,1e-18,1e-17,1e-16,1e-15,1e-14,1e-13,1e-12,1e-11], "grid": false, "ticks": false, "tickSize": 0, "labels": true,
      "labelExpr": "'' + round(log(datum.value) / LN10)", "labelFontSize": 23, "labelAlign": "right", "labelBaseline": "alphabetic", "labelPadding": 18, "labelOffset": -2,
      "title": "1/2", "titleFontSize": 28, "titleAngle": 270, "titleAlign": "left", "titleBaseline": "alphabetic", "titleX": -163, "titleY": 276}},
    "color": {"field": "series", "type": "nominal", "scale": {"range": ["#ff0000", "#000000"]}}
   }
  },
  {
   "data": {"name": "goal"},
   "mark": {"type": "line", "strokeWidth": 2, "color": "black"},
   "encoding": {
    "x": {"field": "f", "type": "quantitative", "scale": {"type": "log", "domain": [9.368, 105200], "nice": false},
     "axis": {"orient": "top", "values": [10,20,30,40,50,60,70,80,90,100,200,300,400,500,600,700,800,900,1000,2000,3000,4000,5000,6000,7000,8000,9000,10000,20000,30000,40000,50000,60000,70000,80000,90000,100000],
      "grid": false, "ticks": true, "labels": false, "title": null,
      "tickSize": {"condition": {"test": "indexof([10,100,1000,10000,100000], datum.value) >= 0", "value": -26}, "value": -13}}},
    "y": {"field": "s", "type": "quantitative", "scale": {"type": "log", "domain": [8.19e-23, 1.2207e-11], "nice": false},
     "axis": {"orient": "right", "values": [1e-22,1e-21,1e-20,1e-19,1e-18,1e-17,1e-16,1e-15,1e-14,1e-13,1e-12,1e-11], "grid": false, "ticks": true, "tickSize": -27, "labels": false,
      "title": "]", "titleFontSize": 39, "titleAngle": 270, "titleAlign": "left", "titleBaseline": "alphabetic", "titleX": -1424, "titleY": 243}},
    "strokeDash": {"field": "series", "type": "nominal", "scale": {"domain": ["June. 2, 2001", "Phase I goal"], "range": [[1, 0], [1, 0]]},
     "legend": {"title": "\u00a0", "orient": "none", "legendX": 541, "legendY": 233, "fillColor": "black", "strokeColor": "black", "labelColor": "black", "symbolStrokeColor": "black", "zindex": 1, "rowPadding": 13,
      "symbolType": "M-0.914,0H20.8", "labelExpr": "' '",
      "encode": {"legend": {"update": {"strokeWidth": {"value": 4}}}}}}
   }
  }
 ],
 "resolve": {"scale": {"x": "independent", "y": "independent"}, "axis": {"x": "independent", "y": "independent"}}
}
